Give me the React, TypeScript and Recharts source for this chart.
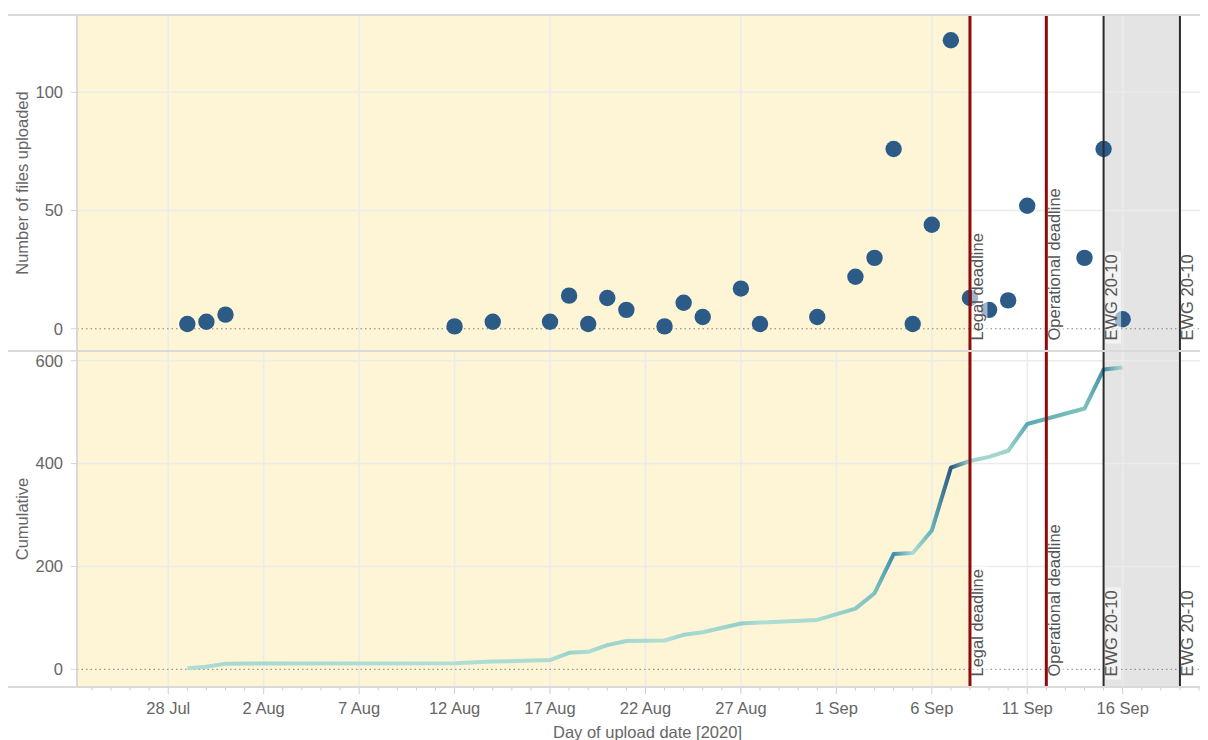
import React from "react"
import {
  ComposedChart,
  Scatter,
  Line,
  XAxis,
  YAxis,
  CartesianGrid,
  ReferenceArea,
  ReferenceLine,
} from "recharts"

// Upload-Monitor: Dateien pro Tag (oben) und Summe (unten), gemeinsame Zeitachse.

const UPLOAD_DATES = [
  "2020-07-29", "2020-07-30", "2020-07-31", "2020-08-12", "2020-08-14", "2020-08-17",
  "2020-08-18", "2020-08-19", "2020-08-20", "2020-08-21", "2020-08-23", "2020-08-24",
  "2020-08-25", "2020-08-27", "2020-08-28", "2020-08-31", "2020-09-02", "2020-09-03",
  "2020-09-04", "2020-09-05", "2020-09-06", "2020-09-07", "2020-09-08", "2020-09-09",
  "2020-09-10", "2020-09-11", "2020-09-14", "2020-09-15", "2020-09-16",
]
const FILES_UPLOADED = [
  2, 3, 6, 1, 3, 3, 14, 2, 13, 8, 1, 11, 5, 17, 2, 5, 22, 30, 76, 2, 44, 122, 13, 8, 12, 52, 30, 76, 4,
]
const CUMULATIVE = [
  2, 5, 11, 12, 15, 18, 32, 34, 47, 55, 56, 67, 72, 89, 91, 96, 118, 148, 224, 226, 270, 392, 405,
  413, 425, 477, 507, 583, 587,
]

const AXIS_TICK_DATES = [
  "2020-07-28", "2020-08-02", "2020-08-07", "2020-08-12", "2020-08-17", "2020-08-22",
  "2020-08-27", "2020-09-01", "2020-09-06", "2020-09-11", "2020-09-16",
]
const TOP_Y_TICKS = [0, 50, 100]
const BOTTOM_Y_TICKS = [0, 200, 400, 600]

const MARKER_DATES = ["2020-09-08", "2020-09-12", "2020-09-15", "2020-09-19"]
const MARKER_LABELS = ["Legal deadline", "Operational deadline", "EWG 20-10", "EWG 20-10"]
const MARKER_KIND = ["deadline", "deadline", "ewg", "ewg"]

const MONTHS = ["Jan", "Feb", "Mar", "Apr", "May", "Jun", "Jul", "Aug", "Sep", "Oct", "Nov", "Dec"]
const FONT = '"Liberation Sans", Arial, sans-serif'
const FS = 16.5
const DAY = 86400000

const toTime = (s: string) => Date.parse(s + "T00:00:00Z")
const fmtDate = (t: number) => {
  const d = new Date(t)
  return `${d.getUTCDate()} ${MONTHS[d.getUTCMonth()]}`
}

const T0 = toTime("2020-07-28")
const X_DOMAIN: [number, number] = [T0 - 4.78 * DAY, T0 + 54.47 * DAY]
const MAJOR = AXIS_TICK_DATES.map(toTime)
const MINOR: number[] = []
for (let t = toTime("2020-07-24"); t <= toTime("2020-09-20"); t += DAY) MINOR.push(t)

const rows = UPLOAD_DATES.map((d, i) => ({
  t: toTime(d),
  files: FILES_UPLOADED[i],
  cum: CUMULATIVE[i],
}))

// Blue-Teal Rampe wie im Original (hell = wenig Uploads am Tag)
const RAMP = ["#b0ded4", "#86c7c3", "#5cadb6", "#3f90ab", "#33729b", "#2b5784"]
const hex = (c: string) => [1, 3, 5].map((i) => parseInt(c.slice(i, i + 2), 16))
function rampColor(v: number) {
  const lo = Math.min(...FILES_UPLOADED)
  const hi = Math.max(...FILES_UPLOADED)
  const p = ((v - lo) / (hi - lo)) * (RAMP.length - 1)
  const i = Math.min(Math.floor(p), RAMP.length - 2)
  const f = p - i
  const a = hex(RAMP[i])
  const b = hex(RAMP[i + 1])
  return `rgb(${a.map((x, k) => Math.round(x + (b[k] - x) * f)).join(",")})`
}

let ctx: CanvasRenderingContext2D | null = null
function textWidth(s: string) {
  if (!ctx) ctx = document.createElement("canvas").getContext("2d")
  if (!ctx) return s.length * 8
  ctx.font = `${FS}px ${FONT}`
  return ctx.measureText(s).width
}

function MarkerLabel(props: any) {
  const { viewBox, text } = props
  if (!viewBox) return null
  const x = viewBox.x + 13.5
  const yb = viewBox.y + viewBox.height - 10.5
  const w = textWidth(text)
  return (
    <g>
      <rect x={viewBox.x + 2} y={yb - w - 3} width={15.5} height={w + 6} fill="#ffffff" fillOpacity={0.55} />
      <text x={x} y={yb} transform={`rotate(-90 ${x} ${yb})`} fontSize={FS} fontFamily={FONT} fill="#555">
        {text}
      </text>
    </g>
  )
}

function YTitle(props: any) {
  const { viewBox, text } = props
  if (!viewBox) return null
  const cx = viewBox.x + 14
  const cy = viewBox.y + viewBox.height / 2
  return (
    <text
      x={cx}
      y={cy}
      transform={`rotate(-90 ${cx} ${cy})`}
      textAnchor="middle"
      dominantBaseline="central"
      fontSize={FS}
      fontFamily={FONT}
      fill="#666"
    >
      {text}
    </text>
  )
}

function XTitle(props: any) {
  const { viewBox } = props
  if (!viewBox) return null
  return (
    <text
      x={viewBox.x + viewBox.width / 2 + 5}
      y={viewBox.y + 50.5}
      textAnchor="middle"
      fontSize={FS}
      fontFamily={FONT}
      fill="#666"
    >
      Day of upload date [2020]
    </text>
  )
}

function DateTick(props: any) {
  const { x, y, payload } = props
  const major = MAJOR.includes(payload.value)
  return (
    <g>
      <line x1={x} x2={x} y1={y} y2={y + (major ? 7 : 3.5)} stroke="#cccccc" />
      {major && (
        <text x={x} y={y + 27} textAnchor="middle" fontSize={FS} fontFamily={FONT} fill="#666">
          {fmtDate(payload.value)}
        </text>
      )}
    </g>
  )
}

const Dot = (p: any) => <circle cx={p.cx} cy={p.cy} r={8.2} fill="#2d5b88" />

const yTick = { fill: "#666", fontSize: FS, fontFamily: FONT }

function Bands() {
  return [
    <ReferenceArea
      key="legal"
      x1={X_DOMAIN[0]}
      x2={toTime(MARKER_DATES[0])}
      fill="#fdf5d6"
      fillOpacity={1}
      zIndex={-200}
    />,
    <ReferenceArea
      key="ewg"
      x1={toTime(MARKER_DATES[2])}
      x2={toTime(MARKER_DATES[3])}
      fill="#e4e4e4"
      fillOpacity={1}
      zIndex={-200}
    />,
  ]
}

function markerLines() {
  return MARKER_DATES.map((d, i) => (
    <ReferenceLine
      key={d}
      x={toTime(d)}
      stroke={MARKER_KIND[i] === "deadline" ? "#8e0b0b" : "#2b2b2b"}
      strokeWidth={MARKER_KIND[i] === "deadline" ? 3 : 2}
      zIndex={700}
      label={<MarkerLabel text={MARKER_LABELS[i]} />}
    />
  ))
}

export default function App() {
  const t0 = rows[0].t
  const tn = rows[rows.length - 1].t
  return (
    <div style={{ position: "relative", width: 1200, height: 732, overflow: "hidden", background: "#fff" }}>
      <div style={{ position: "absolute", top: 7 }}>
        <ComposedChart width={1200} height={336} data={rows} margin={{ top: 0, right: 0, bottom: 0, left: 0 }}>
          {Bands()}
          <CartesianGrid
            horizontalValues={[50, 100]}
            verticalValues={MAJOR}
            stroke="#ebebeb"
            strokeWidth={1.5}
            zIndex={-150}
          />
          <XAxis type="number" dataKey="t" domain={X_DOMAIN} allowDataOverflow ticks={MAJOR} hide />
          <YAxis
            type="number"
            dataKey="files"
            domain={[-9.4, 132.7]}
            allowDataOverflow
            ticks={TOP_Y_TICKS}
            width={69}
            tick={yTick}
            tickSize={6}
            tickMargin={8}
            tickLine={{ stroke: "#d4d4d4" }}
            axisLine={{ stroke: "#d9d9d9", strokeWidth: 2 }}
            label={<YTitle text="Number of files uploaded" />}
          />
          <ReferenceLine y={0} stroke="#808080" strokeDasharray="1.5 3" />
          <Scatter dataKey="files" isAnimationActive={false} shape={Dot} />
          {markerLines()}
        </ComposedChart>
      </div>

      <div style={{ position: "absolute", top: 343 }}>
        <ComposedChart width={1200} height={389} data={rows} margin={{ top: 0, right: 0, bottom: 0, left: 0 }}>
          <defs>
            <linearGradient id="cumStroke" x1="0" y1="0" x2="1" y2="0">
              {rows.map((r) => (
                <stop key={r.t} offset={(r.t - t0) / (tn - t0)} stopColor={rampColor(r.files)} />
              ))}
            </linearGradient>
          </defs>
          {Bands()}
          <CartesianGrid
            horizontalValues={[200, 400, 600]}
            verticalValues={MAJOR}
            stroke="#ebebeb"
            strokeWidth={1.5}
            zIndex={-150}
          />
          <XAxis
            type="number"
            dataKey="t"
            domain={X_DOMAIN}
            allowDataOverflow
            ticks={MINOR}
            interval={0}
            tick={<DateTick />}
            tickLine={false}
            tickSize={0}
            tickMargin={0}
            axisLine={false}
            height={53}
            label={<XTitle />}
          />
          <YAxis
            type="number"
            dataKey="cum"
            domain={[-34.4, 618.9]}
            allowDataOverflow
            ticks={BOTTOM_Y_TICKS}
            width={69}
            tick={yTick}
            tickSize={6}
            tickMargin={8}
            tickLine={{ stroke: "#d4d4d4" }}
            axisLine={{ stroke: "#d9d9d9", strokeWidth: 2 }}
            label={<YTitle text="Cumulative" />}
          />
          <ReferenceLine y={0} stroke="#808080" strokeDasharray="1.5 3" />
          <Line
            type="linear"
            dataKey="cum"
            stroke="url(#cumStroke)"
            strokeWidth={4}
            strokeLinejoin="round"
            dot={false}
            activeDot={false}
            isAnimationActive={false}
          />
          {markerLines()}
        </ComposedChart>
      </div>

      {/* Rahmenlinien wie in Tableau, laufen bis an den linken Rand */}
      <div style={{ position: "absolute", left: 0, top: 6, width: 1200, height: 2, background: "#dadada" }} />
      <div style={{ position: "absolute", left: 0, top: 342, width: 1200, height: 2, background: "#dadada" }} />
      <div style={{ position: "absolute", left: 0, top: 678, width: 1200, height: 2, background: "#dadada" }} />
    </div>
  )
}
